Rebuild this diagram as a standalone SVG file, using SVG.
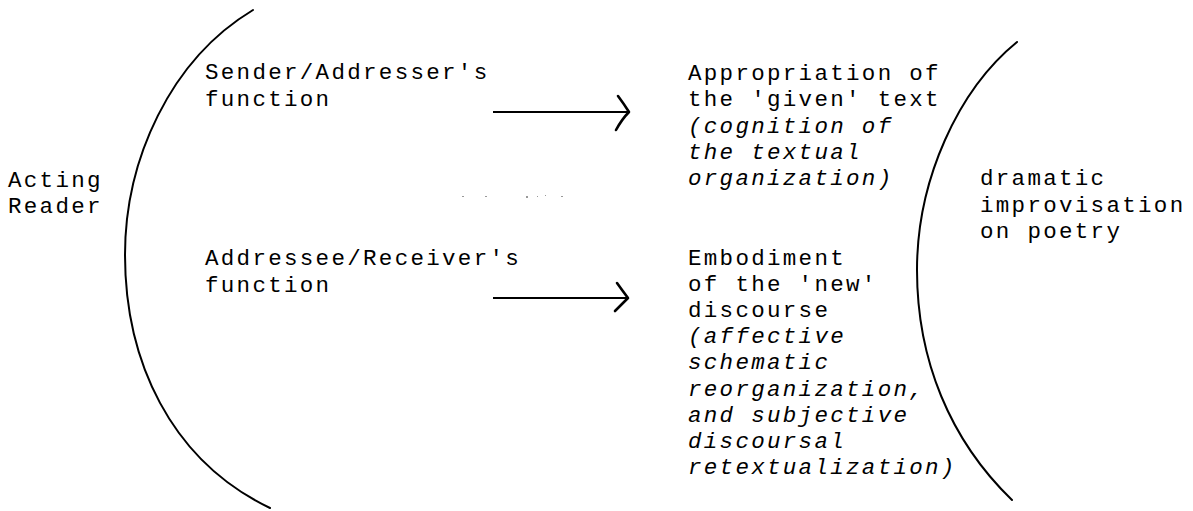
<svg xmlns="http://www.w3.org/2000/svg" width="1193" height="511" viewBox="0 0 1193 511">
<style>
text{font-family:"Liberation Mono","DejaVu Sans Mono",monospace;font-size:22.5px;letter-spacing:2.3px;fill:#000}
.i{font-style:italic}
.arc{fill:none;stroke:#000;stroke-width:2;stroke-linecap:round}
.ln{fill:none;stroke:#000;stroke-width:1.8}
.hd{fill:none;stroke:#000;stroke-width:2.6;stroke-linecap:round;stroke-linejoin:round}
</style>
<g id="bracket-left"><path class="arc" d="M253,10 C170,60 125,160 125,255 C125,360 170,460 270,508"/></g>
<g id="bracket-right"><path class="arc" d="M1017,42 C958,90 917,180 917,270 C917,360 950,440 1012,500"/></g>
<g id="acting-reader"><text x="8" y="187">Acting</text><text x="8" y="212.5">Reader</text></g>
<g id="sender"><text x="205" y="79">Sender/Addresser's</text><text x="205" y="105.5">function</text></g>
<g id="receiver"><text x="205" y="265">Addressee/Receiver's</text><text x="205" y="291.5">function</text></g>
<g id="appropriation">
<text x="688" y="79.5">Appropriation of</text>
<text x="688" y="106">the 'given' text</text>
<text class="i" x="688" y="132.5">(cognition of</text>
<text class="i" x="688" y="159">the textual</text>
<text class="i" x="688" y="185">organization)</text>
</g>
<g id="embodiment">
<text x="688" y="265">Embodiment</text>
<text x="688" y="291">of the 'new'</text>
<text x="688" y="317">discourse</text>
<text class="i" x="688" y="343">(affective</text>
<text class="i" x="688" y="369">schematic</text>
<text class="i" x="688" y="395.5">reorganization,</text>
<text class="i" x="688" y="422">and subjective</text>
<text class="i" x="688" y="448">discoursal</text>
<text class="i" x="688" y="474">retextualization)</text>
</g>
<g id="dramatic"><text x="980" y="185">dramatic</text><text x="980" y="212">improvisation</text><text x="980" y="238">on poetry</text></g>
<g id="connectors">
<path class="ln" d="M493,112 L628,112"/>
<path class="hd" d="M618,96 Q624,104 629,112 Q622,119 616,130"/>
<path class="ln" d="M493,298 L627,298"/>
<path class="hd" d="M617,283 Q622,290 628,298 Q621,305 615,311"/>
</g>
<g id="specks" fill="#999">
<rect x="462" y="196" width="2" height="1"/><rect x="485" y="196" width="2" height="1"/><rect x="526" y="196" width="2" height="2"/><rect x="537" y="196" width="1" height="1"/><rect x="545" y="195" width="1" height="1"/><rect x="561" y="196" width="2" height="1"/>
</g>
</svg>
